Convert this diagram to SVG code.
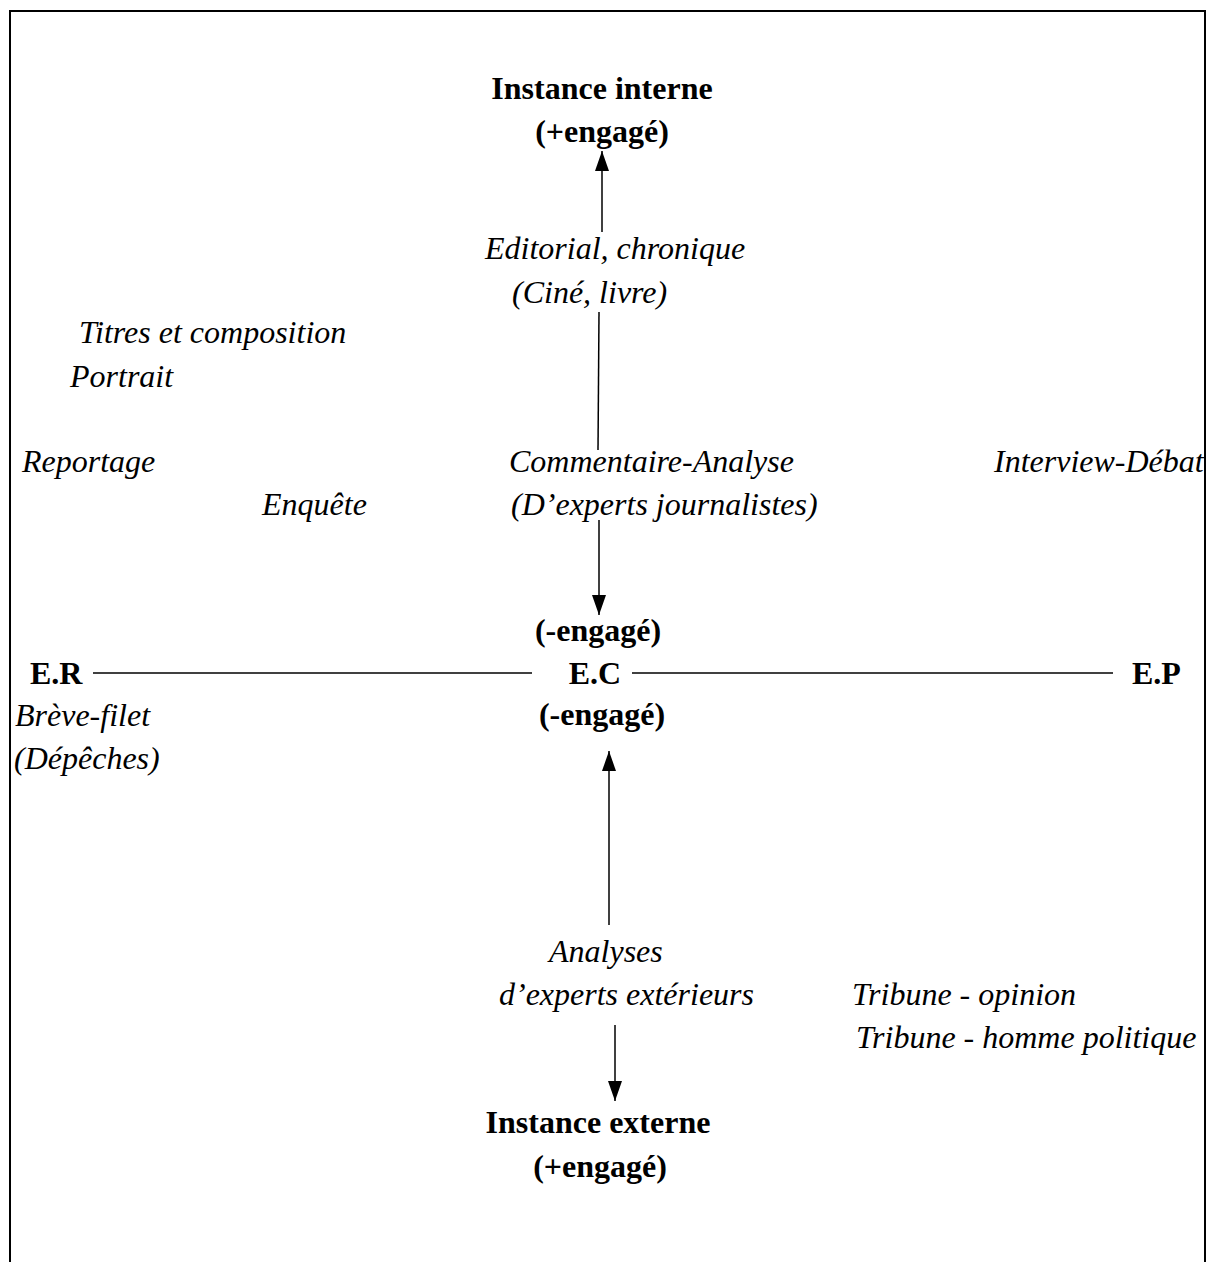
<svg xmlns="http://www.w3.org/2000/svg" width="1213" height="1262" viewBox="0 0 1213 1262">
<style>
.b{font-family:"Liberation Serif","Times New Roman",serif;font-weight:bold;font-size:32px;fill:#000}
.i{font-family:"Liberation Serif","Times New Roman",serif;font-style:italic;font-size:32px;fill:#000}
.c{text-anchor:middle}
.ln{stroke:#000;stroke-width:1.5;fill:none}
</style>
<defs>
<marker id="arr" viewBox="0 0 20 14" refX="20" refY="7" markerWidth="20" markerHeight="14" orient="auto" markerUnits="userSpaceOnUse">
<path d="M0,0 L20,7 L0,14 Z" fill="#000"/>
</marker>
</defs>
<rect x="10" y="11" width="1195" height="1300" fill="#fff" stroke="#000" stroke-width="2"/>
<g id="connectors">
<line class="ln" x1="602" y1="232" x2="602" y2="151" marker-end="url(#arr)"/>
<line class="ln" x1="599" y1="312" x2="598" y2="450"/>
<line class="ln" x1="599" y1="520" x2="599" y2="615" marker-end="url(#arr)"/>
<line class="ln" x1="93" y1="673" x2="532" y2="673"/>
<line class="ln" x1="632" y1="673" x2="1113" y2="673"/>
<line class="ln" x1="609" y1="925" x2="609" y2="751" marker-end="url(#arr)"/>
<line class="ln" x1="615" y1="1025" x2="615" y2="1101" marker-end="url(#arr)"/>
</g>
<g id="instance-interne">
<text class="b c" x="602" y="99">Instance interne</text>
<text class="b c" x="602" y="142">(+engagé)</text>
</g>
<g id="editorial">
<text class="i" x="485" y="259">Editorial, chronique</text>
<text class="i" x="512" y="303">(Ciné, livre)</text>
</g>
<g id="titres">
<text class="i" x="79" y="343">Titres et composition</text>
<text class="i" x="70" y="387">Portrait</text>
</g>
<g id="reportage"><text class="i" x="22" y="472">Reportage</text></g>
<g id="enquete"><text class="i" x="262" y="515">Enquête</text></g>
<g id="commentaire">
<text class="i" x="509" y="472">Commentaire-Analyse</text>
<text class="i" x="511" y="515">(D’experts journalistes)</text>
</g>
<g id="interview"><text class="i" x="994" y="472">Interview-Débat</text></g>
<g id="ec">
<text class="b c" x="598" y="641">(-engagé)</text>
<text class="b c" x="595" y="684">E.C</text>
<text class="b c" x="602" y="725">(-engagé)</text>
</g>
<g id="er">
<text class="b" x="30" y="684">E.R</text>
<text class="i" x="15" y="726">Brève-filet</text>
<text class="i" x="14" y="769">(Dépêches)</text>
</g>
<g id="ep"><text class="b" x="1132" y="684">E.P</text></g>
<g id="analyses">
<text class="i" x="549" y="962">Analyses</text>
<text class="i" x="499" y="1005">d’experts extérieurs</text>
</g>
<g id="tribune">
<text class="i" x="852" y="1005">Tribune - opinion</text>
<text class="i" x="856" y="1048">Tribune - homme politique</text>
</g>
<g id="instance-externe">
<text class="b c" x="598" y="1133">Instance externe</text>
<text class="b c" x="600" y="1177">(+engagé)</text>
</g>
</svg>
